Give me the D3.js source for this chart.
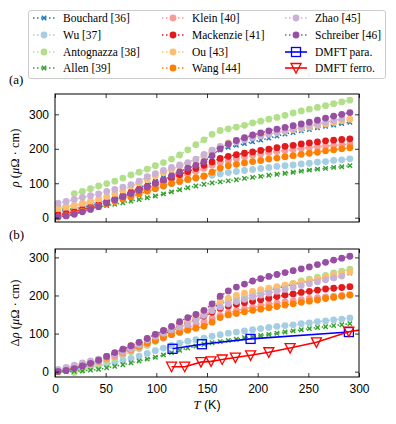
<!DOCTYPE html>
<html>
<head>
<meta charset="utf-8">
<script src="https://cdn.jsdelivr.net/npm/d3@7"></script>
<style>
  body { margin: 0; background: #fff; }
  svg { display: block; }
  .tick text { font-family: "Liberation Sans", Arial, sans-serif; font-size: 12px; fill: #000; }
</style>
</head>
<body>
<svg width="396" height="424"></svg>
<script>
// temperatures (K) shared by the experimental curves
const temps = [3, 11, 19, 27, 35, 43, 51, 59, 67, 75, 83, 91, 99, 107, 115, 123, 131, 139, 147,
  155, 163, 171, 179, 187, 195, 203, 211, 219, 227, 235, 243, 251, 259, 267, 275, 283, 291];

// rho(T) in muOhm cm
const bouchard = [19, 21, 25, 30, 36, 43, 51, 59, 68, 77, 87, 96, 106, 116, 125, 134, 143, 153, 165,
  184, 196, 204, 210, 215, 220, 225, 231, 237, 243, 247, 252, 256, 261, 265, 269, 273, 277];
const wu = [32, 33, 35, 38, 41, 45, 49, 54, 59, 65, 71, 78, 85, 92, 99, 105, 110, 114, 118,
  123, 127, 131, 134, 137, 140, 143, 146, 149, 151, 153, 156, 158, 161, 163, 166, 168, 171];
const antognazza = [null, null, 70, 76, 84, 92, 99, 106, 115, 124, 132, 141, 151, 160, 170, 182, 197, 212, 226,
  242, 253, 258, 263, 268, 275, 280, 286, 291, 297, 304, 310, 315, 320, 325, 331, 336, 341];
const allen = [25, 25, 26, 27, 29, 31, 35, 39, 43, 48, 53, 58, 63, 69, 75, 81, 87, 92, 97,
  101, 104, 107, 110, 114, 117, 120, 123, 126, 129, 132, 135, 138, 141, 143, 146, 148, 151];
const klein = [16, 19, 22, 27, 32, 38, 45, 52, 60, 68, 76, 85, 93, 101, 110, 118, 127, 135, 143,
  152, 160, 166, 172, 177, 181, 185, 189, 192, 195, 198, 201, 204, 206, 208, 210, 212, 214];
const mackenzie = [8, 12, 17, 23, 30, 37, 46, 54, 63, 73, 82, 90, 100, 108, 116, 125, 134, 143, 152,
  162, 172, 178, 183, 187, 191, 195, 199, 203, 207, 210, 214, 217, 220, 223, 225, 227, 229];
const ou = [27, 31, 36, 42, 48, 54, 61, 69, 79, 92, 101, 111, 122, 131, 140, 149, 157, 166, 180,
  195, 207, 217, 224, 230, 235, 239, 243, 247, 251, 255, 259, 263, 268, 272, 277, 281, 286];
const wang = [2, 6, 12, 19, 26, 33, 40, 47, 54, 61, 69, 77, 84, 92, 99, 105, 111, 116, 121,
  132, 144, 151, 155, 159, 163, 166, 170, 173, 177, 180, 184, 187, 190, 194, 197, 200, 203];
const zhao = [42, 47, 53, 59, 64, 69, 76, 82, 89, 96, 106, 119, 128, 137, 146, 153, 160, 170, 184,
  196, 206, 214, 220, 226, 232, 237, 242, 247, 252, 257, 262, 267, 272, 277, 282, 287, null];
const schreiber = [3, 5, 10, 17, 24, 32, 42, 52, 61, 70, 79, 89, 100, 110, 121, 133, 144, 152, 163,
  180, 200, 214, 224, 232, 240, 246, 252, 257, 262, 267, 272, 277, 283, 289, 295, 300, 305];

const names = ['Bouchard [36]', 'Wu [37]', 'Antognazza [38]', 'Allen [39]', 'Klein [40]',
  'Mackenzie [41]', 'Ou [43]', 'Wang [44]', 'Zhao [45]', 'Schreiber [46]'];
const seriesValues = [bouchard, wu, antognazza, allen, klein, mackenzie, ou, wang, zhao, schreiber];
const colors = ['#1f78b4', '#a6cee3', '#b2df8a', '#33a02c', '#fb9a99',
  '#e31a1c', '#fdbf6f', '#ff7f00', '#cab2d6', '#984ea3'];
const markers = ['x', 'o', 'o', 'x', 'o', 'o', 'o', 'o', 'o', 'o'];
// residual resistivity subtracted for panel (b)
const rho0 = [18, 30, 72, 25, 12, 6, 24, 2, 36, 2];

// DMFT results, panel (b)
const paraT = [116, 145, 193, 290];
const paraD = [60, 72, 86, 104];
const ferroT = [115, 128, 144, 154, 165, 178, 193, 211, 232, 258, 290, 340];
const ferroD = [13, 13, 25, 27, 32, 37, 43, 51, 62, 77, 105, 125];

const xTicks = [0, 50, 100, 150, 200, 250, 300];
const yTicks = [0, 100, 200, 300];

const svg = d3.select('svg');
const serif = '"Liberation Serif", "DejaVu Serif", serif';
const sans = '"Liberation Sans", Arial, sans-serif';

const x = d3.scaleLinear().domain([0, 300]).range([55, 359]);
const yA = d3.scaleLinear().domain([-12.5, 359]).range([222, 94]);
const yB = d3.scaleLinear().domain([-14, 322]).range([377, 249]);

function drawMarker(g, kind, cx, cy, color) {
  if (kind === 'x') {
    const s = 2.2;
    g.append('path')
      .attr('d', `M${cx - s},${cy - s}L${cx + s},${cy + s}M${cx - s},${cy + s}L${cx + s},${cy - s}`)
      .attr('stroke', color)
      .attr('stroke-width', 1.4)
      .attr('fill', 'none');
  } else {
    g.append('circle')
      .attr('cx', cx)
      .attr('cy', cy)
      .attr('r', 3.4)
      .attr('fill', color);
  }
}

const drawPanel = function (y, clipId, useDelta, showXLabels) {
  const [r0, r1] = y.range();
  svg.append('clipPath').attr('id', clipId)
    .append('rect')
    .attr('x', 55).attr('y', r1).attr('width', 304).attr('height', r0 - r1);

  const plot = svg.append('g').attr('clip-path', `url(#${clipId})`);

  seriesValues.forEach(function (vals, i) {
    const pts = temps
      .map((t, j) => [t, vals[j] == null ? null : (useDelta ? vals[j] - rho0[i] : vals[j])])
      .filter(d => d[1] != null);
    const g = plot.append('g');
    g.append('path')
      .datum(pts)
      .attr('d', d3.line().x(d => x(d[0])).y(d => y(d[1])))
      .attr('fill', 'none')
      .attr('stroke', colors[i])
      .attr('stroke-width', 1.5)
      .attr('stroke-dasharray', '1.5,2.5');
    pts.forEach(function (d) {
      drawMarker(g, markers[i], x(d[0]), y(d[1]), colors[i]);
    });
  });

  if (useDelta) {
    const para = paraT.map((t, j) => [t, paraD[j]]);
    const ferro = ferroT.map((t, j) => [t, ferroD[j]]);
    const line = d3.line().x(d => x(d[0])).y(d => y(d[1]));

    plot.append('path').datum(para).attr('d', line)
      .attr('fill', 'none').attr('stroke', '#0000ff').attr('stroke-width', 1.6);
    plot.selectAll(null).data(para).enter().append('rect')
      .attr('x', d => x(d[0]) - 4.5).attr('y', d => y(d[1]) - 4.5)
      .attr('width', 9).attr('height', 9)
      .attr('fill', 'none').attr('stroke', '#0000ff').attr('stroke-width', 1.3);

    plot.append('path').datum(ferro).attr('d', line)
      .attr('fill', 'none').attr('stroke', '#ff0000').attr('stroke-width', 1.6);
    plot.selectAll(null).data(ferro).enter().append('path')
      .attr('d', function (d) {
        const cx = x(d[0]), cy = y(d[1]);
        return `M${cx - 5},${cy - 4.5}L${cx + 5},${cy - 4.5}L${cx},${cy + 5}Z`;
      })
      .attr('fill', 'none').attr('stroke', '#ff0000').attr('stroke-width', 1.3);
  }

  // axes, ticks pointing inwards on all four sides
  svg.append('g')
    .attr('transform', `translate(0,${r0})`)
    .call(d3.axisBottom(x).tickValues(xTicks).tickSizeInner(-4).tickSizeOuter(0).tickPadding(7)
      .tickFormat(showXLabels ? d3.format('d') : ''));
  svg.append('g')
    .attr('transform', `translate(0,${r1})`)
    .call(d3.axisTop(x).tickValues(xTicks).tickSizeInner(-4).tickSizeOuter(0).tickFormat(''));
  svg.append('g')
    .attr('transform', 'translate(55,0)')
    .call(d3.axisLeft(y).tickValues(yTicks).tickSizeInner(-4).tickSizeOuter(0).tickPadding(6));
  svg.append('g')
    .attr('transform', 'translate(359,0)')
    .call(d3.axisRight(y).tickValues(yTicks).tickSizeInner(-4).tickSizeOuter(0).tickFormat(''));
  svg.selectAll('.domain').remove();
  svg.selectAll('.tick line').attr('stroke', '#000').attr('stroke-width', 0.8);

  svg.append('rect')
    .attr('x', 55).attr('y', r1).attr('width', 304).attr('height', r0 - r1)
    .attr('fill', 'none').attr('stroke', '#000').attr('stroke-width', 1);

  const label = svg.append('text')
    .attr('transform', `translate(19,${(r0 + r1) / 2}) rotate(-90)`)
    .attr('text-anchor', 'middle')
    .style('font-family', serif)
    .style('font-size', '12.5px');
  if (useDelta) label.append('tspan').text('Δ');
  label.append('tspan').style('font-style', 'italic').text('ρ');
  label.append('tspan').text(' (');
  label.append('tspan').style('font-style', 'italic').text('μ');
  label.append('tspan').text('Ω · cm)');
};

drawPanel(yA, 'clipA', false, false);
drawPanel(yB, 'clipB', true, true);

// x axis label
const xl = svg.append('text')
  .attr('x', 207).attr('y', 409)
  .attr('text-anchor', 'middle')
  .style('font-size', '12.5px');
xl.append('tspan').style('font-family', serif).style('font-style', 'italic').text('T');
xl.append('tspan').style('font-family', sans).text(' (K)');

// panel letters
svg.append('text').attr('x', 9).attr('y', 84)
  .style('font-family', serif).style('font-size', '13px').text('(a)');
svg.append('text').attr('x', 9).attr('y', 239)
  .style('font-family', serif).style('font-size', '13px').text('(b)');

// legend
const legend = svg.append('g');
legend.append('rect')
  .attr('x', 28.5).attr('y', 10.5).attr('width', 357).attr('height', 68)
  .attr('rx', 2.5)
  .attr('fill', '#fff').attr('stroke', '#cccccc').attr('stroke-width', 1);

const colX = [33, 162, 285];
const rowY = [18, 35, 52, 68];
const legendNames = names.concat(['DMFT para.', 'DMFT ferro.']);
legendNames.forEach(function (name, i) {
  const cx = colX[Math.floor(i / 4)];
  const cy = rowY[i % 4];
  const g = legend.append('g');
  if (i < 10) {
    g.append('line')
      .attr('x1', cx).attr('x2', cx + 22).attr('y1', cy).attr('y2', cy)
      .attr('stroke', colors[i]).attr('stroke-width', 1.5).attr('stroke-dasharray', '1.5,2.5');
    drawMarker(g, markers[i], cx + 11, cy, colors[i]);
  } else {
    const c = i === 10 ? '#0000ff' : '#ff0000';
    g.append('line')
      .attr('x1', cx).attr('x2', cx + 22).attr('y1', cy).attr('y2', cy)
      .attr('stroke', c).attr('stroke-width', 1.6);
    if (i === 10) {
      g.append('rect').attr('x', cx + 6.5).attr('y', cy - 4.5).attr('width', 9).attr('height', 9)
        .attr('fill', 'none').attr('stroke', c).attr('stroke-width', 1.3);
    } else {
      g.append('path').attr('d', `M${cx + 6},${cy - 4.5}L${cx + 16},${cy - 4.5}L${cx + 11},${cy + 5}Z`)
        .attr('fill', 'none').attr('stroke', c).attr('stroke-width', 1.3);
    }
  }
  g.append('text')
    .attr('x', cx + 30).attr('y', cy + 4)
    .style('font-family', serif).style('font-size', '11.5px')
    .text(name);
});
</script>
</body>
</html>
